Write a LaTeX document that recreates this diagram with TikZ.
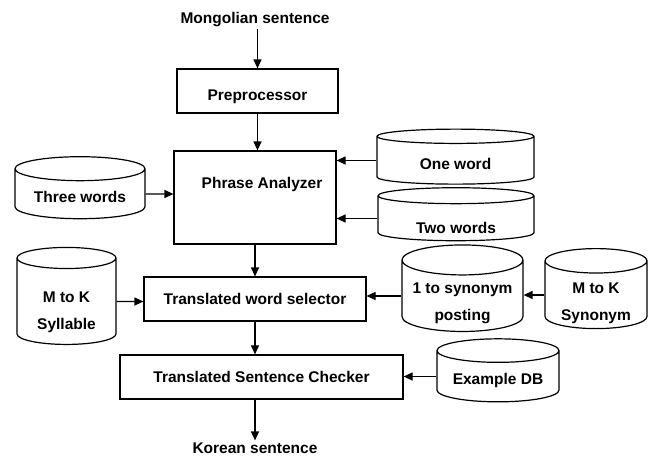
\documentclass[tikz,border=0pt]{standalone}
\usepackage{fontspec}
\setmainfont{Liberation Sans}
\usepackage{tikz}
\usetikzlibrary{arrows.meta,shapes.geometric}
\newcommand{\sunk}[2]{\raisebox{-#1}[\height][\depth]{#2}}

\begin{document}
\begin{tikzpicture}[x=1pt,y=-1pt,
 proc/.style={draw,line width=1.2pt,rectangle,inner sep=0pt,font=\bfseries\fontsize{15.5}{18}\selectfont},
 db/.style={draw,line width=1.2pt,cylinder,shape border rotate=90,inner sep=0pt,align=center,
 font=\bfseries\fontsize{15.5}{27}\selectfont},
 plainText/.style={inner sep=2pt,font=\bfseries\fontsize{15.5}{18}\selectfont},
 arr/.style={-{Triangle[length=9pt,width=8pt]},line width=1.2pt}]
 \useasboundingbox (0,0) rectangle (656,456);
 % main chain
 \node[plainText] (mongol) at (255,20) {Mongolian sentence};
 \node[proc,minimum width=161pt,minimum height=44pt,text height=21pt,text depth=3pt] (prep) at (257.5,91) {Preprocessor};
 \node[proc,minimum width=162pt,minimum height=93pt,text height=11pt,text depth=29pt] (phrase) at (255,197.5) {\hspace*{14pt}Phrase Analyzer};
 \node[proc,minimum width=222pt,minimum height=44pt] (sel) at (255,299) {Translated word selector};
 \node[proc,minimum width=283pt,minimum height=44pt] (chk) at (261.5,377) {Translated Sentence Checker};
 \node[plainText] (korean) at (255,448) {Korean sentence};
 % databases
 \node[db,minimum width=130pt,minimum height=62pt,aspect=0.26] (three) at (80,194) {\sunk{3pt}{Three words}};
 \node[db,minimum width=157pt,minimum height=55pt,aspect=0.2] (one) at (455.5,160.5) {\sunk{3pt}{One word}};
 \node[db,minimum width=156pt,minimum height=53pt,aspect=0.2] (two) at (456,218.5) {\sunk{9pt}{Two words}};
 \node[db,minimum width=99pt,minimum height=97pt,aspect=0.36] (syl) at (66.5,301.5) {\sunk{11pt}{M to K}\\\sunk{11pt}{Syllable}};
 \node[db,minimum width=121pt,minimum height=82pt,aspect=0.3] (post) at (462.5,296) {\sunk{7.5pt}{1 to synonym}\\\sunk{7.5pt}{posting}};
 \node[db,minimum width=102pt,minimum height=80pt,aspect=0.35] (syn) at (596,295) {\sunk{8.5pt}{M to K}\\\sunk{8.5pt}{Synonym}};
 \node[db,minimum width=122pt,minimum height=63pt,aspect=0.26] (exdb) at (498,376.5) {\sunk{4pt}{Example DB}};
 % connectors
 \draw[arr] (mongol.south -| prep.north) -- (prep.north);
 \draw[arr] (prep.south) -- (prep.south |- phrase.north);
 \draw[arr] (phrase.south) -- (sel.north);
 \draw[arr] (sel.south) -- (sel.south |- chk.north);
 \draw[arr] (chk.south -| sel.south) -- (korean.north -| sel.south);
 \draw[arr] (three) -- (three -| phrase.west);
 \draw[arr] (one.west) -- (one.west -| phrase.east);
 \draw[arr] (two.west) -- (two.west -| phrase.east);
 \draw[arr] (syl) -- (syl -| sel.west);
 \draw[arr] (post.west) -- (post.west -| sel.east);
 \draw[arr] (syn.west) -- (syn.west -| post.east);
 \draw[arr] (exdb.west) -- (exdb.west -| chk.east);
\end{tikzpicture}
\end{document}
